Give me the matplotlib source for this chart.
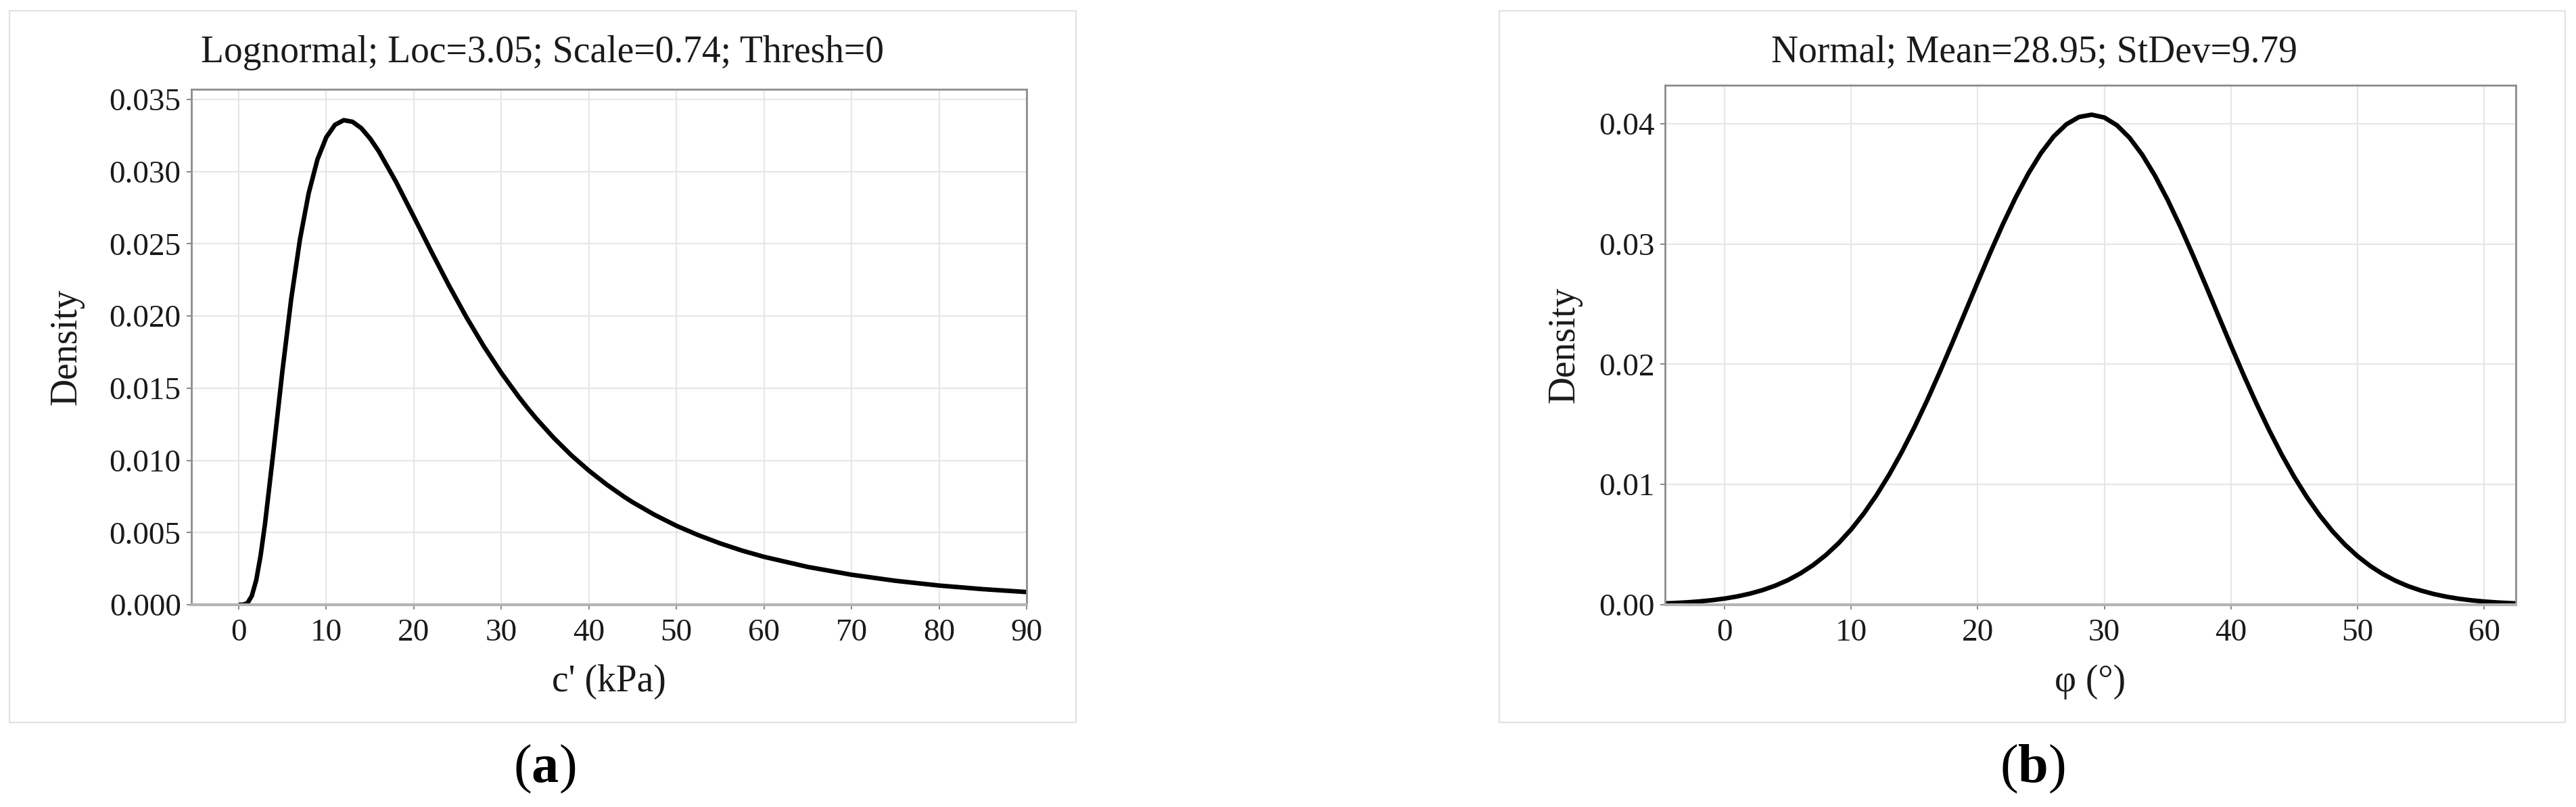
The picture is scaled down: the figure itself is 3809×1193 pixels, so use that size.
import matplotlib
matplotlib.use("Agg")
import matplotlib.pyplot as plt
from matplotlib.patches import Rectangle
from matplotlib.ticker import FormatStrFormatter

plt.rcParams['font.family'] = ['Liberation Serif', 'DejaVu Serif']
plt.rcParams['mathtext.fontset'] = 'custom'
plt.rcParams['mathtext.rm'] = 'Liberation Serif'
plt.rcParams['mathtext.bf'] = 'Liberation Serif:bold'

# ---------------- data ----------------
title_a = "Lognormal; Loc=3.05; Scale=0.74; Thresh=0"
title_b = "Normal; Mean=28.95; StDev=9.79"
xlabel_a = "c' (kPa)"
xlabel_b = "φ (°)"
ylabel = "Density"

# (a) lognormal density curve
cohesion_kpa = [0, 0.5, 1, 1.5, 2, 2.5, 3, 4, 5, 6, 7, 8, 9, 10, 11, 12, 13, 14,
                15, 16, 18, 20, 22, 24, 26, 28, 30, 32, 33, 34, 36, 38, 40, 42,
                44, 45, 47.5, 50, 52.5, 55, 57.5, 60, 65, 70, 75, 80, 85, 90]
density_a = [0.0, 0.000003, 0.00011, 0.00061, 0.00169, 0.00338, 0.00556, 0.01077,
             0.01621, 0.02117, 0.02530, 0.02851, 0.03084, 0.03237, 0.03324,
             0.03356, 0.03345, 0.03301, 0.03230, 0.03141, 0.02926, 0.02688,
             0.02447, 0.02213, 0.01993, 0.01790, 0.01606, 0.01439, 0.01362,
             0.01289, 0.01155, 0.01035, 0.00929, 0.00834, 0.00749, 0.00710,
             0.00623, 0.00547, 0.00482, 0.00425, 0.00375, 0.00332, 0.00262,
             0.00208, 0.00166, 0.00133, 0.00108, 0.00088]

# (b) normal density curve
friction_deg = [-5, -4, -3, -2, -1, 0, 1, 2, 3, 4, 5, 6, 7, 8, 9, 10, 11, 12, 13,
                14, 15, 16, 17, 18, 19, 20, 21, 22, 23, 24, 25, 26, 27, 28, 29,
                30, 31, 32, 33, 34, 35, 36, 37, 38, 39, 40, 41, 42, 43, 44, 45,
                46, 47, 48, 49, 50, 51, 52, 53, 54, 55, 56, 57, 58, 59, 60, 61,
                62, 63]
density_b = [0.000100, 0.000141, 0.000198, 0.000275, 0.000378, 0.000514, 0.000692,
             0.000922, 0.001215, 0.001585, 0.002044, 0.002611, 0.003300, 0.004128,
             0.005110, 0.006260, 0.007588, 0.009104, 0.010808, 0.012698, 0.014765,
             0.016990, 0.019347, 0.021801, 0.024313, 0.026832, 0.029307, 0.031675,
             0.033878, 0.035860, 0.037565, 0.038942, 0.039950, 0.040559, 0.040750,
             0.040516, 0.039866, 0.038820, 0.037408, 0.035674, 0.033667, 0.031444,
             0.029063, 0.026581, 0.024061, 0.021553, 0.019106, 0.016761, 0.014552,
             0.012502, 0.010629, 0.008943, 0.007448, 0.006137, 0.005005, 0.004039,
             0.003225, 0.002549, 0.001994, 0.001543, 0.001182, 0.000896, 0.000672,
             0.000499, 0.000367, 0.000267, 0.000192, 0.000137, 0.000096]

xticks_a = [0, 10, 20, 30, 40, 50, 60, 70, 80, 90]
yticks_a = [0.000, 0.005, 0.010, 0.015, 0.020, 0.025, 0.030, 0.035]
xticks_b = [0, 10, 20, 30, 40, 50, 60]
yticks_b = [0.00, 0.01, 0.02, 0.03, 0.04]

# ---------------- figure ----------------
W, H = 3809, 1193
fig = plt.figure(figsize=(W / 100, H / 100), dpi=100)
fig.patch.set_facecolor('white')


def fx(px):
    return px / W


def fy(py):
    return 1 - py / H


# panel frames
for (x0, x1) in [(14, 1591), (2217, 3793)]:
    fig.patches.append(Rectangle((fx(x0), fy(1068)), fx(x1) - fx(x0), fy(16) - fy(1068),
                                 transform=fig.transFigure, fill=False,
                                 edgecolor='#e2e2e2', linewidth=1.6, zorder=0))

ax1 = fig.add_axes([fx(283), fy(894), fx(1518) - fx(283), fy(132) - fy(894)])
ax2 = fig.add_axes([fx(2462), fy(894), fx(3720) - fx(2462), fy(126) - fy(894)])

spine_col = '#8c8c8c'


def style(ax, xticks, yticks, fmt):
    ax.set_xticks(xticks)
    ax.set_yticks(yticks)
    ax.yaxis.set_major_formatter(FormatStrFormatter(fmt))
    ax.grid(True, color='#e6e6e6', linewidth=1.5)
    ax.set_axisbelow(True)
    for s in ['left', 'top', 'right']:
        ax.spines[s].set_color(spine_col)
        ax.spines[s].set_linewidth(2.0)
    ax.spines['bottom'].set_color('#b3b3b3')
    ax.spines['bottom'].set_linewidth(3.0)
    ax.tick_params(axis='both', colors=spine_col, length=5, width=1.5,
                   labelsize=34, labelcolor='#1a1a1a')
    ax.tick_params(axis='y', pad=6)
    ax.tick_params(axis='x', pad=10)


ax1.plot(cohesion_kpa, density_a, color='black', linewidth=4.8,
         solid_capstyle='butt', solid_joinstyle='round')
ax1.set_xlim(-5.4, 90)
ax1.set_ylim(0, 0.0357)
style(ax1, xticks_a, yticks_a, '%.3f')

ax2.plot(friction_deg, density_b, color='black', linewidth=4.8,
         solid_capstyle='butt', solid_joinstyle='round')
ax2.set_xlim(-4.7, 62.5)
ax2.set_ylim(0, 0.0432)
style(ax2, xticks_b, yticks_b, '%.2f')

# titles and labels
fig.text(fx(802), fy(92), title_a, ha='center', va='baseline', fontsize=40, color='#1a1a1a')
fig.text(fx(3008), fy(92), title_b, ha='center', va='baseline', fontsize=40, color='#1a1a1a')
fig.text(fx(900), fy(1022), xlabel_a, ha='center', va='baseline', fontsize=40, color='#1a1a1a')
fig.text(fx(3091), fy(1022), xlabel_b, ha='center', va='baseline', fontsize=40, color='#1a1a1a')
fig.text(fx(98), fy(513), ylabel, ha='center', va='center', rotation=90, fontsize=40, color='#1a1a1a')
fig.text(fx(2313), fy(510), ylabel, ha='center', va='center', rotation=90, fontsize=40, color='#1a1a1a')

fig.text(fx(805), fy(1137), r"($\mathbf{a}$)", ha='center', va='center', fontsize=58, color='black')
fig.text(fx(3005), fy(1137), r"($\mathbf{b}$)", ha='center', va='center', fontsize=58, color='black')

fig.savefig('out.png', dpi=100, facecolor='white')
